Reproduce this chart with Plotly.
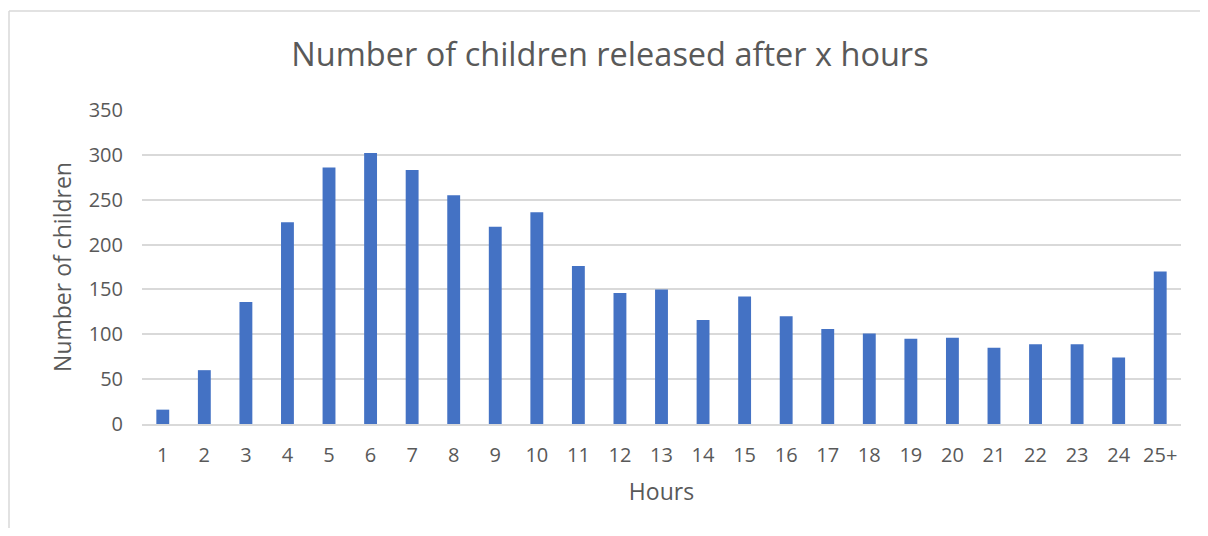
import plotly.graph_objects as go

hours = ["1","2","3","4","5","6","7","8","9","10","11","12","13","14","15","16","17","18","19","20","21","22","23","24","25+"]
children = [16, 60, 136, 225, 286, 302, 283, 255, 220, 236, 176, 146, 150, 116, 142, 120, 106, 101, 95, 96, 85, 89, 89, 74, 170]
y_ticks = [0, 50, 100, 150, 200, 250, 300, 350]

# page body has an 8px margin on every side, so the figure is sized to fit the window
W, H = 1192, 520
ml, mr, mt, mb = 134, 19, 102, 104
pw, ph = W - ml - mr, H - mt - mb

fig = go.Figure(go.Bar(x=hours, y=children, marker=dict(color="#4472C4", line=dict(width=0))))

border = dict(color="#d9d9d9", width=1.5)
bx0 = (1 - ml) / pw
by1 = ((H - mb) - 3) / ph

fig.update_layout(
    width=W, height=H,
    margin=dict(l=ml, r=mr, t=mt, b=mb),
    paper_bgcolor="white", plot_bgcolor="white",
    bargap=0.69,
    font=dict(family="Open Sans, Carlito, Calibri, sans-serif", color="#595959", size=20),
    title=dict(text="Number of children released after x hours", x=602 / W, xanchor="center",
               y=1 - 47 / H, yanchor="middle", font=dict(size=32.5, color="#595959")),
    showlegend=False,
    xaxis=dict(title=dict(text="Hours", font=dict(size=23), standoff=17), type="category",
               showgrid=False, showline=True, linecolor="#d9d9d9", linewidth=1.5,
               ticks="", tickfont=dict(size=20), ticklabelstandoff=12),
    yaxis=dict(title=dict(text="Number of children", font=dict(size=23), standoff=10),
               range=[0, 350], tickvals=y_ticks, showgrid=True, gridcolor="#d9d9d9", gridwidth=1.5,
               zeroline=False, showline=False, ticks="", tickfont=dict(size=20), ticklabelstandoff=18),
    shapes=[
        dict(type="line", xref="paper", yref="paper", x0=bx0, x1=bx0, y0=-1.0, y1=by1, line=border, layer="below"),
        dict(type="line", xref="paper", yref="paper", x0=bx0, x1=1.2, y0=by1, y1=by1, line=border, layer="below"),
    ],
)

fig.write_html("out.html")
